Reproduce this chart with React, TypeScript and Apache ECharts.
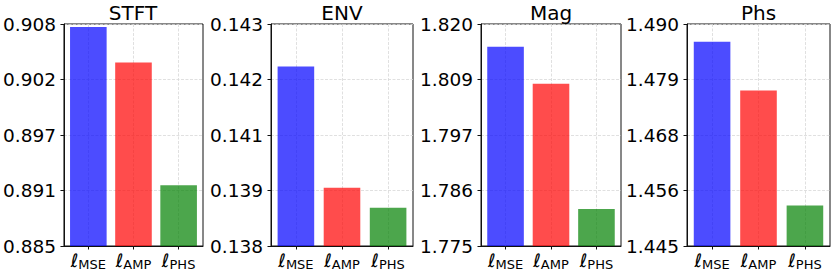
import React, { useEffect, useRef } from "react";
import * as echarts from "echarts";

const categories = ["MSE", "AMP", "PHS"];
const panelTitles = ["STFT", "ENV", "Mag", "Phs"];

const stftValues = [0.9077, 0.904, 0.8913];
const envValues = [0.14204, 0.13931, 0.13886];
const magValues = [1.8154, 1.8079, 1.7825];
const phsValues = [1.4864, 1.4765, 1.4532];

const stftRange = [0.885, 0.908];
const envRange = [0.138, 0.143];
const magRange = [1.775, 1.82];
const phsRange = [1.445, 1.49];

const stftTickLabels = ["0.885", "0.891", "0.897", "0.902", "0.908"];
const envTickLabels = ["0.138", "0.139", "0.141", "0.142", "0.143"];
const magTickLabels = ["1.775", "1.786", "1.797", "1.809", "1.820"];
const phsTickLabels = ["1.445", "1.456", "1.468", "1.479", "1.490"];

const barColors = ["rgba(0,0,255,0.7)", "rgba(255,0,0,0.7)", "rgba(0,128,0,0.7)"];

const panelValues = [stftValues, envValues, magValues, phsValues];
const panelRanges = [stftRange, envRange, magRange, phsRange];
const panelTickLabels = [stftTickLabels, envTickLabels, magTickLabels, phsTickLabels];

const gridLefts = [63, 271, 481, 687];
const gridWidths = [140, 142, 140, 143];
const gridTop = 24;
const gridHeight = 222;
const FONT = "DejaVu Sans";

export default function App() {
  const ref = useRef<HTMLDivElement>(null);
  useEffect(() => {
    if (!ref.current) return;
    const chart = echarts.init(ref.current, undefined, { renderer: "svg" });
    const grids: any[] = [];
    const xAxes: any[] = [];
    const yAxes: any[] = [];
    const series: any[] = [];
    const graphics: any[] = [];
    const splitStyle = { color: "#d8d8d8", width: 0.8, type: [3, 1.5] };
    panelTitles.forEach((t, i) => {
      const [mn, mx] = panelRanges[i];
      const tickVals = panelTickLabels[i].map((_, k) => mn + ((mx - mn) * k) / 4);
      grids.push({
        left: gridLefts[i],
        top: gridTop,
        width: gridWidths[i],
        height: gridHeight,
        show: true,
        borderColor: "#111",
        borderWidth: 1,
      });
      graphics.push({
        type: "text",
        x: gridLefts[i] + gridWidths[i] / 2,
        y: 12.5,
        style: {
          text: t,
          textAlign: "center",
          textVerticalAlign: "middle",
          fontFamily: FONT,
          fontSize: 20,
          fill: "#000",
        },
      });
      xAxes.push({
        type: "value",
        gridIndex: i,
        min: -0.54,
        max: 2.54,
        axisLine: { show: true, onZero: false, lineStyle: { color: "#111", width: 1 } },
        axisTick: { show: true, length: 3.5, customValues: [0, 1, 2], lineStyle: { color: "#111", width: 1 } },
        splitLine: { show: true, lineStyle: splitStyle },
        axisLabel: {
          customValues: [0, 1, 2],
          margin: 4,
          formatter: (v: number) => `{l|ℓ}{s|${categories[Math.round(v)]}}`,
          rich: {
            l: { fontFamily: FONT, fontSize: 18.5, fontStyle: "italic", color: "#000" },
            s: { fontFamily: FONT, fontSize: 13, color: "#000", padding: [8, 0, 0, 0] },
          },
        },
      });
      yAxes.push({
        type: "value",
        gridIndex: i,
        min: mn,
        max: mx,
        axisLine: { show: true, onZero: false, lineStyle: { color: "#111", width: 1 } },
        axisTick: { show: true, length: 3.5, customValues: tickVals, lineStyle: { color: "#111", width: 1 } },
        splitLine: { show: true, lineStyle: splitStyle },
        axisLabel: {
          customValues: tickVals,
          margin: 8,
          fontFamily: FONT,
          fontSize: 18.5,
          color: "#000",
          formatter: (v: number) => {
            let best = 0;
            tickVals.forEach((tv, k) => {
              if (Math.abs(tv - v) < Math.abs(tickVals[best] - v)) best = k;
            });
            return panelTickLabels[i][best];
          },
        },
      });
      series.push({
        type: "bar",
        xAxisIndex: i,
        yAxisIndex: i,
        barWidth: 36.6,
        data: panelValues[i].map((v, j) => ({ value: [j, v], itemStyle: { color: barColors[j] } })),
      });
    });
    chart.setOption({
      animation: false,
      backgroundColor: "#fff",
      grid: grids,
      xAxis: xAxes,
      yAxis: yAxes,
      series,
      graphic: graphics,
    });
    return () => chart.dispose();
  }, []);
  return <div ref={ref} style={{ position: "absolute", left: 0, top: 0, width: 831, height: 274 }} />;
}
